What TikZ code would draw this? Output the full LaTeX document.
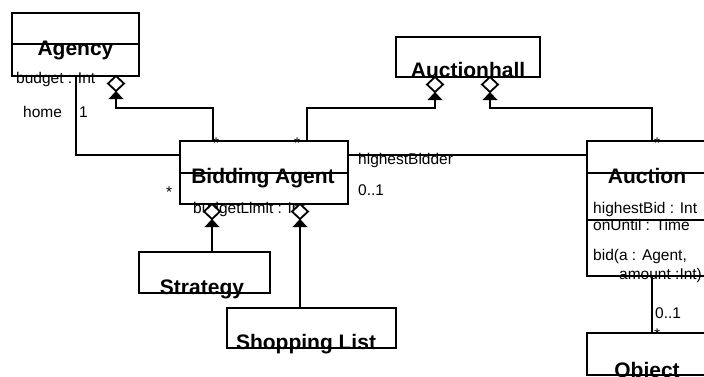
\documentclass[tikz,border=0pt]{standalone}
\usepackage{fontspec}
\setmainfont{Liberation Sans}
\tikzset{
  box/.style={draw, line width=2pt, rectangle, inner sep=0pt, outer sep=0pt, anchor=north west},
  title/.style={font=\fontsize{21}{21}\selectfont\bfseries, inner sep=0pt, anchor=base},
  attr/.style={font=\fontsize{15.5}{15.5}\selectfont, inner sep=0pt, anchor=base west},
  conn/.style={line width=2pt},
  aggend/.pic={
    \draw[line width=1.8pt, fill=white] (0,0) -- (8,7.5) -- (0,15) -- (-8,7.5) -- cycle;
    \fill (0,15) -- (7.5,23) -- (-7.5,23) -- cycle;
  }
}
\begin{document}
\begin{tikzpicture}[x=1pt,y=-1pt]
\useasboundingbox (0,0) rectangle (704,376);
\clip (0,0) rectangle (704,376);
% boxes
\node[box, minimum width=127pt, minimum height=63pt] (agency) at (12,13) {};
\node[box, minimum width=144pt, minimum height=40pt] (hall) at (396,37) {};
\node[box, minimum width=168pt, minimum height=63pt] (ba) at (180,141) {};
\node[box, minimum width=122pt, minimum height=135pt] (auction) at (587,141) {};
\node[box, minimum width=131pt, minimum height=41pt] (strategy) at (139,252) {};
\node[box, minimum width=169pt, minimum height=40pt] (shopping) at (227,308) {};
\node[box, minimum width=122pt, minimum height=42pt] (object) at (587,333) {};
% compartment lines
\draw[conn] (agency.west |- 0,44) -- (agency.east |- 0,44);
\draw[conn] (ba.west |- 0,173) -- (ba.east |- 0,173);
\draw[conn] (auction.west |- 0,173) -- (auction.east |- 0,173);
\draw[conn] (auction.west |- 0,220) -- (auction.east |- 0,220);
% titles
\node[title] (tAgency) at (75.5,55) {Agency};
\node[title] (tHall) at (468,77.5) {Auctionhall};
\node[title] (tBA) at (263,183) {Bidding Agent};
\node[title] (tAuction) at (647,183) {Auction};
\node[title] (tStrategy) at (202,294) {Strategy};
\node[title] (tShop) at (306,349) {Shopping List};
\node[title] (tObject) at (647,377) {Object};
% attributes and labels
\node[attr] (lBudget) at (16,83) {budget : Int};
\node[attr] (lHome) at (23,117) {home};
\node[attr] (lOne) at (79,117) {1};
\node[attr] (lBL) at (193,213) {budgetLimit : Int};
\node[attr] (lStarL) at (166,197) {*};
\node[attr] (lZeroOne) at (358,195) {0..1};
\node[attr] (lHB) at (358,164) {highestBidder};
\node[attr] (lStar1) at (213,148) {*};
\node[attr] (lStar2) at (294,148) {*};
\node[attr] (lStar3) at (654,148) {*};
\node[attr] (lHBid) at (593,213) {highestBid : Int};
\node[attr] (lOnUntil) at (593,230) {onUntil : Time};
\node[attr] (lBid) at (593,260) {bid(a : Agent,};
\node[attr] (lAmount) at (619,279) {amount :Int)};
\node[attr] (lZeroOne2) at (655,318) {0..1};
\node[attr] (lStar4) at (654,339) {*};
% aggregation ends
\coordinate (agA) at (116,0 |- agency.south);
\coordinate (agH1) at (435,0 |- hall.south);
\coordinate (agH2) at (490,0 |- hall.south);
\coordinate (agB1) at (212,0 |- ba.south);
\coordinate (agB2) at (300,0 |- ba.south);
\foreach \c in {agA,agH1,agH2,agB1,agB2} {\pic at (\c) {aggend};}
% connectors
\draw[conn] ([yshift=-23pt]agA) |- (213,108) -- (213,0 |- ba.north);
\draw[conn] ([yshift=-23pt]agH1) |- (307,108) -- (307,0 |- ba.north);
\draw[conn] ([yshift=-23pt]agH2) |- (652,108) -- (652,0 |- auction.north);
\draw[conn] ([yshift=-23pt]agB1) -- (212,0 |- strategy.north);
\draw[conn] ([yshift=-23pt]agB2) -- (300,0 |- shopping.north);
\draw[conn] (76,0 |- agency.south) |- (ba.west |- 0,155);
\draw[conn] (ba.east |- 0,155) -- (auction.west |- 0,155);
\draw[conn] (652,0 |- auction.south) -- (652,0 |- object.north);
\end{tikzpicture}
\end{document}
